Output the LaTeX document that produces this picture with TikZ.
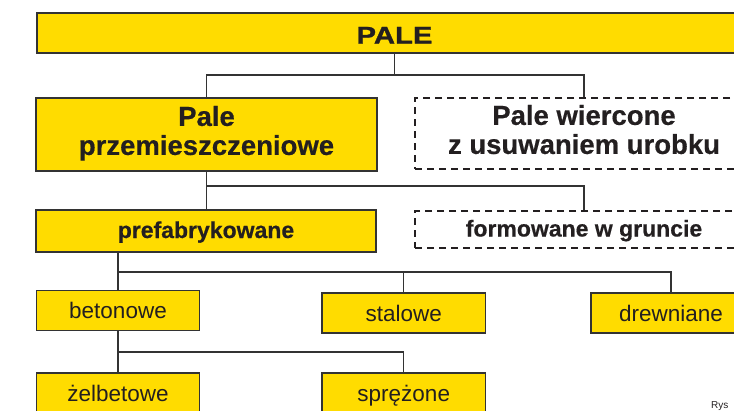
\documentclass[tikz,border=0pt]{standalone}
\usepackage{fontspec}
\usepackage{graphicx}
\setmainfont{Liberation Sans}[BoldFeatures={FakeBold=0.5}]
\newfontfamily\palefont{Liberation Sans}[FakeStretch=1.22,FakeBold=1.2]
\definecolor{ink}{HTML}{231F20}
\definecolor{frame}{HTML}{333333}
\definecolor{gold}{RGB}{255,220,0}

\begin{document}
\begin{tikzpicture}[x=1pt,y=-1pt,
  yellowbox/.style={draw=frame, line width=1.2pt, fill=gold, inner sep=0pt, text=ink},
  dashbox/.style={draw=ink, line width=1.5pt, dash pattern=on 7pt off 5pt, inner sep=0pt, text=ink},
  wire/.style={draw=frame, line width=1.2pt},
  big/.style={font=\fontsize{27.5}{27}\selectfont\bfseries, align=center},
  mid/.style={font=\fontsize{23}{24}\selectfont\bfseries, text height=17pt, text depth=3pt},
  small/.style={font=\fontsize{22.5}{24}\selectfont, text height=16pt, text depth=0pt},
]
\clip (0,0) rectangle (734,410);

% boxes
\node[yellowbox, minimum width=715pt, minimum height=40pt, text height=21pt, text depth=0pt,
      font=\fontsize{24}{24}\palefont\bfseries] (pale) at (394.5,33) {PALE};
\node[yellowbox, big, minimum width=341pt, minimum height=73pt] (prz) at (206.5,134.5)
      {\strut Pale\\\strut przemieszczeniowe};
\node[dashbox, big, minimum width=338pt, minimum height=71pt] (wier) at (584,133.5)
      {\strut Pale wiercone\\\strut z usuwaniem urobku};
\node[yellowbox, mid, minimum width=340pt, minimum height=42pt] (pref) at (206,231) {prefabrykowane};
\node[dashbox, mid, minimum width=338pt, minimum height=37pt] (form) at (584,229.5) {formowane w gruncie};
\node[yellowbox, small, minimum width=163pt, minimum height=40pt] (bet) at (118,310.5) {betonowe};
\node[yellowbox, small, minimum width=163.5pt, minimum height=40pt] (stal) at (403.75,313) {stalowe};
\node[yellowbox, small, minimum width=160pt, minimum height=40pt] (drew) at (671,313) {drewniane};
\node[yellowbox, small, minimum width=163pt, minimum height=40pt] (zel) at (118,393) {żelbetowe};
\node[yellowbox, small, minimum width=163.5pt, minimum height=40pt] (spr) at (403.75,393) {sprężone};

% junction levels
\coordinate (j1) at (0,75);
\coordinate (j2) at (0,186);
\coordinate (j3) at (0,272);
\coordinate (j4) at (0,352);

% connectors
\draw[wire] (pale.south) -- (pale.south |- j1);
\draw[wire] (prz.north) |- (wier.north |- j1) -- (wier.north);
\draw[wire] (prz.south) -- (prz.south |- pref.north);
\draw[wire] (prz.south |- j2) -| (form.north);
\draw[wire] (pref.south -| bet.north) -- (bet.north);
\draw[wire] (bet.north |- j3) -| (drew.north);
\draw[wire] (stal.north) -- (stal.north |- j3);
\draw[wire] (bet.south) -- (zel.north);
\draw[wire] (bet.south |- j4) -| (spr.north);

% caption start
\node[font=\fontsize{10}{12}\selectfont, text=ink, anchor=base west, inner sep=0pt] (rys) at (711,408.5) {Rys};
\end{tikzpicture}
\end{document}
